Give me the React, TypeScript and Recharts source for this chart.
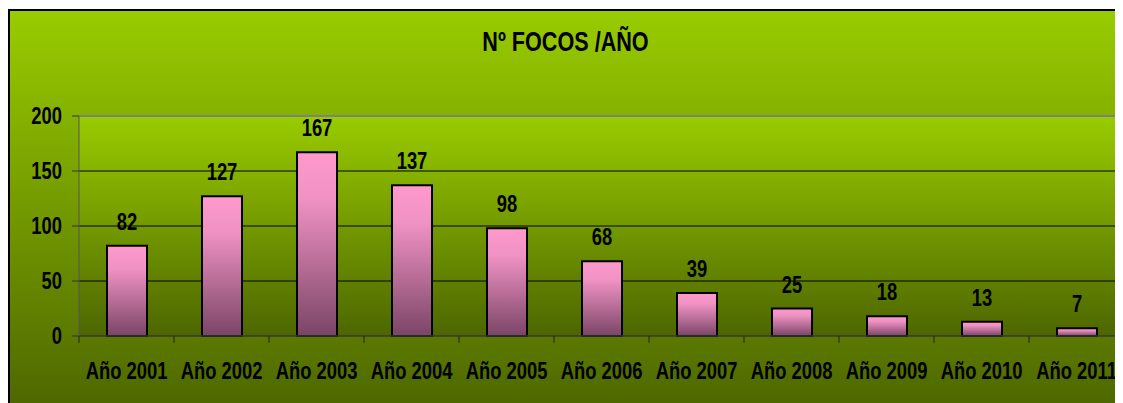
import React from "react";
import { BarChart, Bar, XAxis, YAxis, CartesianGrid, ReferenceLine, LabelList } from "recharts";

const years = ["Año 2001", "Año 2002", "Año 2003", "Año 2004", "Año 2005", "Año 2006", "Año 2007", "Año 2008", "Año 2009", "Año 2010", "Año 2011"];
const focos = [82, 127, 167, 137, 98, 68, 39, 25, 18, 13, 7];
const yTicks = [0, 50, 100, 150, 200];

const data = years.map((y, i) => ({ year: y, focos: focos[i] }));

const FONT = '"Liberation Sans", Arial, sans-serif';
const NARROW = 0.8; // no Arial Narrow installed, squeeze Liberation Sans

// text squeezed horizontally around its anchor
function NarrowText({ x, y, anchor, children }: any) {
  return (
    <text
      transform={`translate(${x},${y}) scale(${NARROW},1)`}
      x={0}
      y={0}
      textAnchor={anchor}
      fontFamily={FONT}
      fontWeight="bold"
      fontSize={23}
      fill="#000"
    >
      {children}
    </text>
  );
}

function YearTick(props: any) {
  const { x, y, payload } = props;
  const half = payload && payload.offset != null ? payload.offset : 47.5;
  return (
    <g>
      <line x1={x - half} y1={y} x2={x - half} y2={y + 7} stroke="#222" strokeWidth={1} />
      <NarrowText x={x} y={y + 43} anchor="middle">{payload.value}</NarrowText>
    </g>
  );
}

function ValueTick(props: any) {
  const { x, y, payload } = props;
  return (
    <g>
      <line x1={x} y1={y} x2={x + 7} y2={y} stroke="#333" strokeWidth={1} />
      <NarrowText x={x - 10} y={y + 8} anchor="end">{payload.value}</NarrowText>
    </g>
  );
}

function BarValue(props: any) {
  const { x, y, width, value } = props;
  return <NarrowText x={x + width / 2} y={y - 16} anchor="middle">{value}</NarrowText>;
}

export default function App() {
  return (
    <>
      <style>{`html,body{overflow:hidden}`}</style>
      <div
        style={{
          position: "relative",
          width: 1111,
          height: 400,
          marginTop: 1,
          border: "2px solid #000",
          overflow: "hidden",
          background: "linear-gradient(to bottom, #99cc00 0%, #4d6600 100%)",
          fontFamily: FONT,
        }}
      >
        <div
          style={{
            position: "absolute",
            top: 18,
            left: 0,
            width: "100%",
            textAlign: "center",
            fontSize: 27,
            lineHeight: "27px",
            fontWeight: "bold",
            color: "#000",
            transform: `scaleX(${NARROW})`,
          }}
        >
          Nº FOCOS /AÑO
        </div>
        <BarChart
          width={1116}
          height={395}
          data={data}
          margin={{ top: 105, right: 2, bottom: 0, left: 0 }}
          barSize={40}
        >
          <defs>
            <linearGradient id="plotGrad" x1="0" y1="0" x2="0" y2="1">
              <stop offset="0%" stopColor="#99cc00" />
              <stop offset="100%" stopColor="#4d6600" />
            </linearGradient>
            <linearGradient id="barGrad" x1="0" y1="0" x2="0" y2="1">
              <stop offset="0%" stopColor="#ff99cc" />
              <stop offset="25%" stopColor="#f092c4" />
              <stop offset="100%" stopColor="#7a4566" />
            </linearGradient>
          </defs>
          <CartesianGrid vertical={false} stroke="#000" strokeOpacity={1} fill="url(#plotGrad)" fillOpacity={1} />
          <ReferenceLine y={200} stroke="#808080" strokeWidth={2} />
          <XAxis
            dataKey="year"
            axisLine={{ stroke: "#555" }}
            tickLine={false}
            tickSize={0}
            tickMargin={0}
            height={70}
            interval={0}
            tick={<YearTick />}
          />
          <YAxis
            width={69}
            domain={[0, 200]}
            ticks={yTicks}
            axisLine={{ stroke: "#555" }}
            tickLine={false}
            tickSize={7}
            tickMargin={0}
            tick={<ValueTick />}
          />
          <Bar dataKey="focos" fill="url(#barGrad)" stroke="#000" strokeWidth={2} isAnimationActive={false}>
            <LabelList dataKey="focos" content={<BarValue />} />
          </Bar>
        </BarChart>
      </div>
    </>
  );
}
